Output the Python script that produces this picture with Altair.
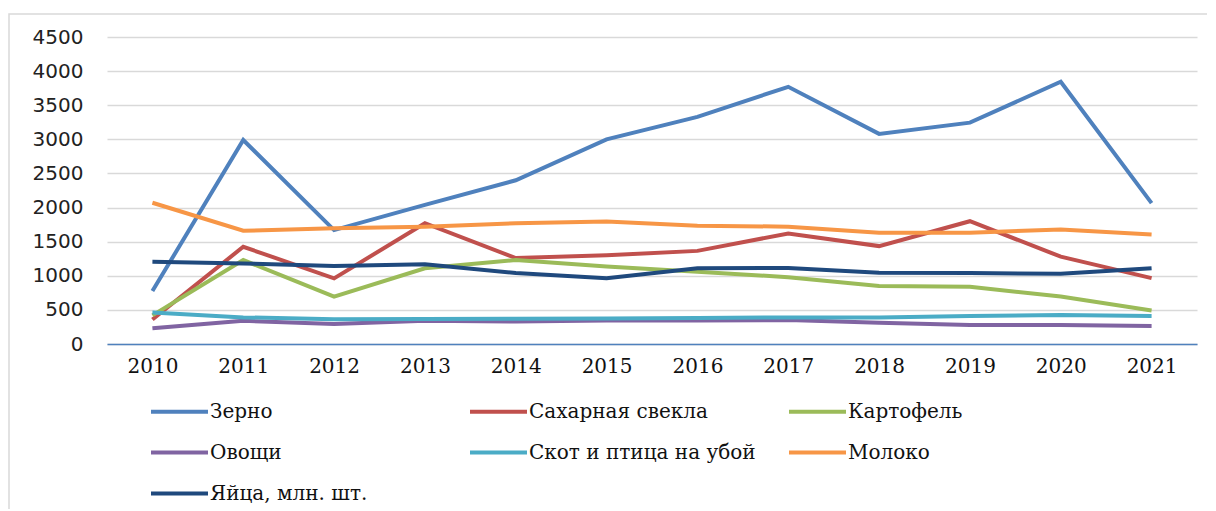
import altair as alt
import pandas as pd

years = ["2010", "2011", "2012", "2013", "2014", "2015", "2016", "2017", "2018", "2019", "2020", "2021"]
series = ["Зерно", "Сахарная  свекла", "Картофель", "Овощи", "Скот и птица на убой", "Молоко", "Яйца, млн. шт."]
colors = ["#4F81BD", "#C0504D", "#9BBB59", "#8064A2", "#4BACC6", "#F79646", "#1F497D"]

zerno = [776, 2990, 1670, 2040, 2400, 3000, 3330, 3770, 3080, 3245, 3845, 2065]
svekla = [360, 1425, 962, 1770, 1260, 1300, 1365, 1620, 1435, 1800, 1280, 965]
kartofel = [420, 1230, 693, 1110, 1230, 1135, 1060, 980, 850, 840, 695, 490]
ovoshchi = [230, 340, 293, 340, 330, 345, 345, 350, 310, 280, 280, 265]
skot = [460, 390, 362, 365, 370, 375, 380, 390, 390, 410, 425, 410]
moloko = [2070, 1660, 1695, 1720, 1770, 1795, 1735, 1720, 1630, 1630, 1680, 1605]
yaitsa = [1205, 1180, 1143, 1170, 1040, 965, 1110, 1115, 1045, 1040, 1030, 1110]

y_ticks = [0, 500, 1000, 1500, 2000, 2500, 3000, 3500, 4000, 4500]

all_vals = [zerno, svekla, kartofel, ovoshchi, skot, moloko, yaitsa]
rows = []
for i, (name, vals) in enumerate(zip(series, all_vals)):
    for yr, v in zip(years, vals):
        rows.append({"year": yr, "value": v, "series": name, "order": i})
df = pd.DataFrame(rows)

lines = alt.Chart(df).mark_line(strokeWidth=4, strokeJoin="miter").encode(
    x=alt.X("year:N", sort=years, scale=alt.Scale(type="point", padding=0.5),
            axis=alt.Axis(title=None, labelAngle=0, ticks=False, grid=False,
                          domainColor="#4F81BD", domainWidth=1.5,
                          labelFont="DejaVu Serif", labelFontSize=20,
                          labelColor="#111111", labelPadding=12)),
    y=alt.Y("value:Q", scale=alt.Scale(domain=[0, 4500], nice=False),
            axis=alt.Axis(title=None, values=y_ticks, format="d", ticks=False, domain=False,
                          gridColor="#D9D9D9", gridWidth=1.4,
                          labelFont="DejaVu Sans", labelFontSize=20,
                          labelColor="#222222", labelPadding=24)),
    color=alt.Color("series:N", sort=series,
                    scale=alt.Scale(domain=series, range=colors),
                    legend=alt.Legend(title=None, orient="none", legendX=42, legendY=344,
                                      direction="horizontal",
                                      columns=3, symbolType="stroke", symbolSize=3249,
                                      symbolStrokeWidth=4, labelFont="DejaVu Serif",
                                      labelFontSize=20, labelColor="#111111",
                                      labelOffset=0, gridAlign="all", columnPadding=25,
                                      rowPadding=-6, labelLimit=400)),
    order=alt.Order("order:Q"),
    detail="series:N",
)

frame = alt.Chart(pd.DataFrame({"k": [0]})).mark_rect(
    fillOpacity=0, stroke="#D9D9D9", strokeWidth=1.5
).encode(
    x=alt.value(-98), x2=alt.value(1120), y=alt.value(-23), y2=alt.value(520)
)

chart = alt.layer(frame, lines).properties(
    width=1090, height=307,
    autosize=alt.AutoSizeParams(type="none"),
    padding={"left": 99, "top": 29, "right": 10, "bottom": 165},
).configure_view(stroke=None)

chart.save("out.html", embed_options={"renderer": "svg", "actions": False})
